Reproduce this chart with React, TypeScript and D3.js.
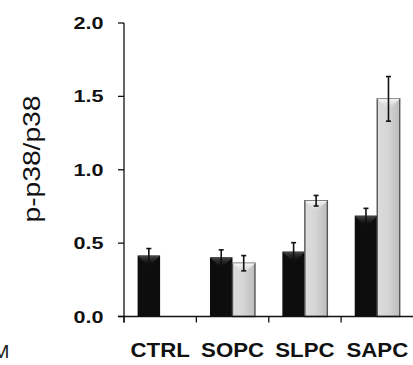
import React from "react";
import * as d3 from "d3";

const categories = ["CTRL", "SOPC", "SLPC", "SAPC"];
const series = ["black", "grey"];
const blackVals = [0.415, 0.403, 0.442, 0.687];
const blackErr = [0.048, 0.051, 0.061, 0.05];
const greyVals: (number | null)[] = [null, 0.363, 0.789, 1.483];
const greyErr: (number | null)[] = [null, 0.052, 0.036, 0.152];
const yTicks = [0, 0.5, 1.0, 1.5, 2.0];
const yTitle = "p-p38/p38";

export default function App() {
  const W = 413, H = 365;
  const x = d3.scaleBand<string>().domain(categories).range([124, 413.5]).padding(0);
  const xs = d3.scaleBand<string>().domain(series).range([13.6, 58.6]).padding(0);
  const y = d3.scaleLinear().domain([0, 2]).range([316.5, 23]);
  const bw = xs.bandwidth();

  const bars: any[] = [];
  categories.forEach((c, i) => {
    bars.push({ c, s: "black", v: blackVals[i], e: blackErr[i] });
    if (greyVals[i] != null) bars.push({ c, s: "grey", v: greyVals[i], e: greyErr[i] });
  });

  return (
    <svg width={W} height={H} style={{ position: "absolute", left: 0, top: 0, background: "#fff" }}>
      <defs>
        <linearGradient id="gGrey" x1="0" x2="1" y1="0" y2="0">
          <stop offset="0" stopColor="#dcdcdc" />
          <stop offset="0.45" stopColor="#d6d6d6" />
          <stop offset="1" stopColor="#bdbdbd" />
        </linearGradient>
        <linearGradient id="gGreyTop" x1="0" x2="0" y1="0" y2="1">
          <stop offset="0" stopColor="#f8f8f8" />
          <stop offset="1" stopColor="#d8d8d8" stopOpacity="0" />
        </linearGradient>
        <linearGradient id="gBlackTop" x1="0" x2="0" y1="0" y2="1">
          <stop offset="0" stopColor="#4a4a4a" />
          <stop offset="1" stopColor="#111" stopOpacity="0" />
        </linearGradient>
      </defs>

      {bars.map((b, k) => {
        const x0 = (x(b.c) as number) + (xs(b.s) as number);
        const yt = y(b.v);
        const yb = y(0);
        const h = yb - yt;
        const tri = `${x0},${yt} ${x0 + bw},${yt} ${x0 + bw / 2},${yt + Math.min(bw / 2, h)}`;
        if (b.s === "black") {
          return (
            <g key={k}>
              <rect x={x0} y={yt} width={bw} height={h} fill="#0d0d0d" />
              <polygon points={tri} fill="url(#gBlackTop)" />
            </g>
          );
        }
        return (
          <g key={k}>
            <rect x={x0} y={yt} width={bw} height={h} fill="url(#gGrey)" stroke="#555" strokeWidth={1.4} />
            <polygon points={tri} fill="url(#gGreyTop)" />
          </g>
        );
      })}

      {bars.map((b, k) => {
        const cx = (x(b.c) as number) + (xs(b.s) as number) + bw / 2;
        const y1 = y(b.v + b.e), y2 = y(b.v - b.e);
        return (
          <g key={"e" + k} stroke="#111" strokeWidth={1.6}>
            <line x1={cx} x2={cx} y1={y1} y2={y2} />
            <line x1={cx - 2.5} x2={cx + 2.5} y1={y1} y2={y1} />
            <line x1={cx - 2.5} x2={cx + 2.5} y1={y2} y2={y2} />
          </g>
        );
      })}

      <line x1={124} x2={124} y1={y(2)} y2={y(0) + 6} stroke="#111" strokeWidth={1.3} />
      {yTicks.map((t) => (
        <g key={t}>
          <line x1={118} x2={124} y1={y(t)} y2={y(t)} stroke="#111" strokeWidth={1.3} />
          <text
            x={103.5}
            y={y(t) + 6}
            textAnchor="end"
            textLength={30}
            lengthAdjust="spacingAndGlyphs"
            fontFamily="Liberation Sans, Arial, sans-serif"
            fontWeight="bold"
            fontSize={17}
            fill="#111"
          >
            {t.toFixed(1)}
          </text>
        </g>
      ))}

      <line x1={118} x2={413} y1={y(0)} y2={y(0)} stroke="#111" strokeWidth={1.3} />
      {categories.map((c) => (
        <line key={"t" + c} x1={x(c) as number} x2={x(c) as number} y1={y(0)} y2={y(0) + 6} stroke="#111" strokeWidth={1.3} />
      ))}
      {categories.map((c) => (
        <text
          key={"l" + c}
          transform={`translate(${(x(c) as number) + x.bandwidth() / 2},357) scale(1.06,1)`}
          textAnchor="middle"
          fontFamily="Liberation Sans, Arial, sans-serif"
          fontWeight="bold"
          fontSize={21}
          fill="#111"
        >
          {c}
        </text>
      ))}

      <text
        transform="translate(39.5,159) rotate(-90) scale(1.2,1)"
        textAnchor="middle"
        fontFamily="Liberation Sans, Arial, sans-serif"
        fontSize={23.5}
        fill="#111"
      >
        {yTitle}
      </text>

      <text
        transform="translate(9.5,358) scale(1.15,1)"
        textAnchor="end"
        fontFamily="Liberation Sans, Arial, sans-serif"
        fontSize={18}
        fill="#222"
      >
        M
      </text>
    </svg>
  );
}
